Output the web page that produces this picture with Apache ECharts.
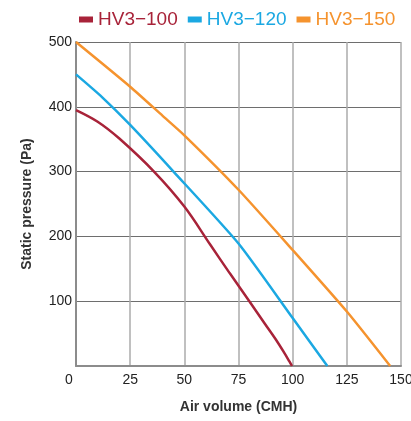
<!DOCTYPE html>
<html>
<head>
<meta charset="utf-8">
<script src="https://cdn.jsdelivr.net/npm/echarts@6/dist/echarts.min.js"></script>
<style>html,body{margin:0;padding:0;background:#fff}#c{width:411px;height:421px}</style>
</head>
<body>
<div id="c"></div>
<script>
const seriesNames = ['HV3\u2212100', 'HV3\u2212120', 'HV3\u2212150'];
const colors = ['#a82339', '#1ba8e2', '#f5932e'];
const xTicks = [0, 25, 50, 75, 100, 125, 150];
const yTicks = [0, 100, 200, 300, 400, 500];

const hv100X = [0, 10, 20, 36, 50, 62, 71, 80, 87, 92, 96, 98.5, 99.7];
const hv100Y = [395, 377, 351, 300, 246, 187, 143, 100, 66, 42, 21, 7, 0];
const hv120X = [0, 12, 25, 45, 75, 100, 116];
const hv120Y = [450, 415, 372, 300, 189, 74, 0];
const hv150X = [0, 25, 40, 50, 75, 100, 125, 145];
const hv150Y = [500, 431, 386, 356, 272, 179, 84, 0];

const xs = [hv100X, hv120X, hv150X];
const ys = [hv100Y, hv120Y, hv150Y];

const chart = echarts.init(document.getElementById('c'));
const font = '"Liberation Sans", Arial, sans-serif';
chart.setOption({
  animation: false,
  textStyle: { fontFamily: font },
  legend: {
    top: 5, left: 74, right: 0,
    itemWidth: 14, itemHeight: 6, itemGap: 10,
    icon: 'rect',
    data: seriesNames.map((n, i) => ({ name: n, textStyle: { color: colors[i] } })),
    textStyle: { fontSize: 19, fontFamily: font }
  },
  grid: { left: 76, right: 10, top: 42, bottom: 55, outerBoundsMode: 'none', containLabel: false },
  xAxis: {
    type: 'value', min: 0, max: 150, interval: 25,
    name: 'Air volume (CMH)', nameLocation: 'middle', nameGap: 34,
    nameTextStyle: { fontSize: 14, fontWeight: 'bold', color: '#333', fontFamily: font },
    axisLine: { show: true, lineStyle: { color: '#8c8c8c', width: 2 } },
    axisTick: { show: false },
    axisLabel: {
      fontSize: 14, color: '#222', margin: 7, fontFamily: font,
      formatter: v => v === 0 ? '{z|0}' : String(v),
      rich: { z: { fontSize: 14, color: '#222', padding: [0, 14, 0, 0], fontFamily: font } }
    },
    splitLine: { show: true, lineStyle: { color: '#ababab', width: 1.5 } }
  },
  yAxis: {
    type: 'value', min: 0, max: 500, interval: 100,
    name: 'Static pressure (Pa)', nameLocation: 'middle', nameGap: 42,
    nameTextStyle: { fontSize: 14, fontWeight: 'bold', color: '#333', fontFamily: font },
    axisLine: { show: true, lineStyle: { color: '#8c8c8c', width: 2 } },
    axisTick: { show: false },
    axisLabel: {
      fontSize: 14, color: '#222', margin: 4, fontFamily: font,
      formatter: v => v === 0 ? '' : String(v)
    },
    splitLine: { show: true, lineStyle: { color: '#6e6e6e', width: 1 } }
  },
  series: seriesNames.map((n, i) => ({
    name: n, type: 'line', smooth: i === 0 ? 0.35 : 0.2, symbol: 'none',
    data: xs[i].map((x, j) => [x, ys[i][j]]),
    lineStyle: { color: colors[i], width: 2.5 },
    itemStyle: { color: colors[i] }
  }))
});
</script>
</body>
</html>
